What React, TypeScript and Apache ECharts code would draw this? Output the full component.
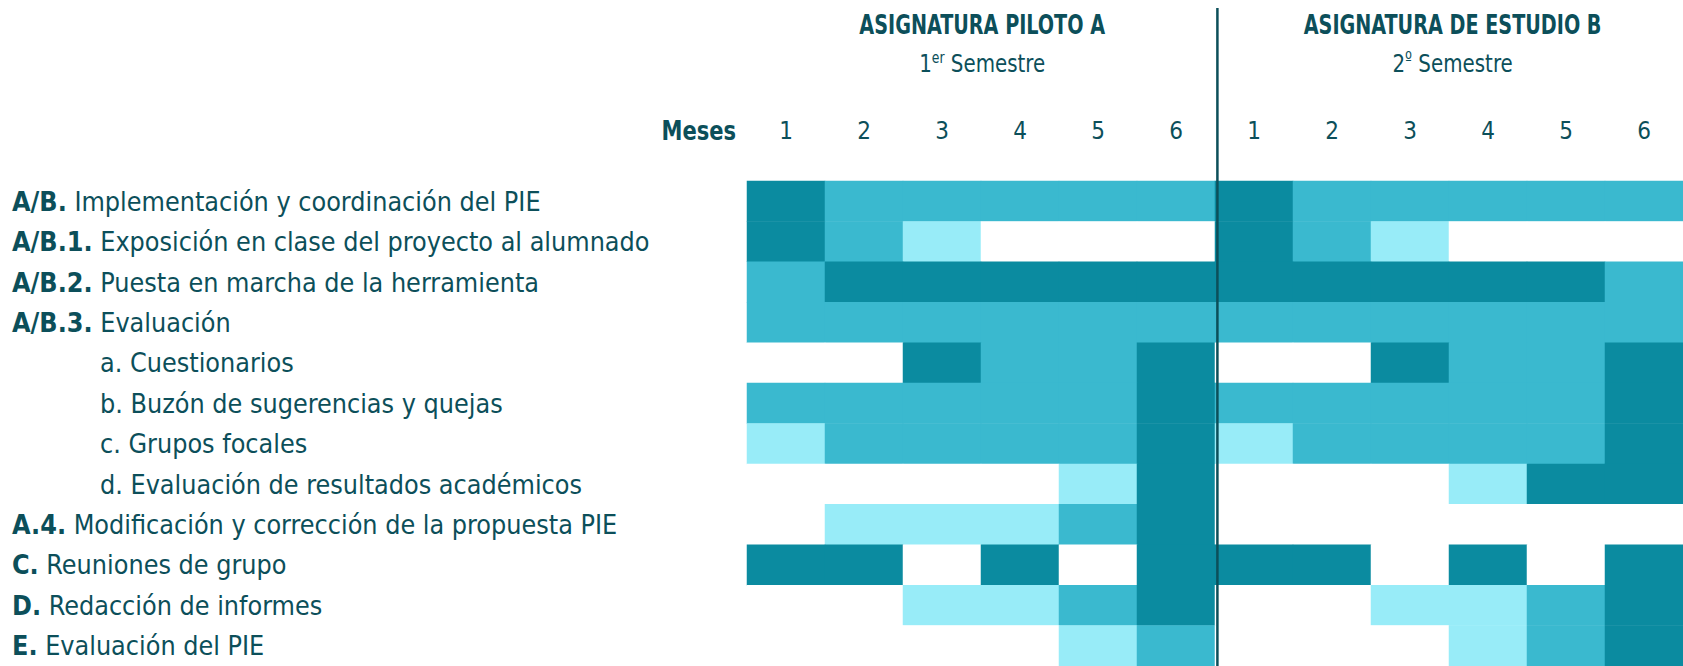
import React, { useEffect, useRef } from 'react';
import * as echarts from 'echarts';

// ---- data ----
const monthsA = ['1', '2', '3', '4', '5', '6'];
const monthsB = ['1', '2', '3', '4', '5', '6'];
const taskCodes = ['A/B.', 'A/B.1.', 'A/B.2.', 'A/B.3.', 'a.', 'b.', 'c.', 'd.', 'A.4.', 'C.', 'D.', 'E.'];
const taskNames = [
  'Implementación y coordinación del PIE',
  'Exposición en clase del proyecto al alumnado',
  'Puesta en marcha de la herramienta',
  'Evaluación',
  'Cuestionarios',
  'Buzón de sugerencias y quejas',
  'Grupos focales',
  'Evaluación de resultados académicos',
  'Modificación y corrección de la propuesta PIE',
  'Reuniones de grupo',
  'Redacción de informes',
  'Evaluación del PIE',
];
const isSubItem = [false, false, false, false, true, true, true, true, false, false, false, false];
// intensity: 0 none, 1 light, 2 medium, 3 strong
const semesterA = [
  [3, 2, 2, 2, 2, 2],
  [3, 2, 1, 0, 0, 0],
  [2, 3, 3, 3, 3, 3],
  [2, 2, 2, 2, 2, 2],
  [0, 0, 3, 2, 2, 3],
  [2, 2, 2, 2, 2, 3],
  [1, 2, 2, 2, 2, 3],
  [0, 0, 0, 0, 1, 3],
  [0, 1, 1, 1, 2, 3],
  [3, 3, 0, 3, 0, 3],
  [0, 0, 1, 1, 2, 3],
  [0, 0, 0, 0, 1, 2],
];
const semesterB = [
  [3, 2, 2, 2, 2, 2],
  [3, 2, 1, 0, 0, 0],
  [3, 3, 3, 3, 3, 2],
  [2, 2, 2, 2, 2, 2],
  [0, 0, 3, 2, 2, 3],
  [2, 2, 2, 2, 2, 3],
  [1, 2, 2, 2, 2, 3],
  [0, 0, 0, 1, 3, 3],
  [0, 0, 0, 0, 0, 0],
  [3, 3, 0, 3, 0, 3],
  [0, 0, 1, 1, 2, 3],
  [0, 0, 0, 1, 2, 3],
];
const headerA = 'ASIGNATURA PILOTO A';
const headerB = 'ASIGNATURA DE ESTUDIO B';
const monthsTitle = 'Meses';

// ---- style ----
const FONT = "'Liberation Sans Narrow', 'DejaVu Sans Condensed', 'Liberation Sans', sans-serif";
const TXT = '#0c4f5a';
const COLORS = ['#ffffff', '#98ecf8', '#3ab9cf', '#0b8ba0'];
const GRID_LEFT = 747;
const GRID_TOP = 181;
const CELL_W = 78.4;
const CELL_H = 40.7;
const LABEL_SIZE = 26.7;

export default function App() {
  const ref = useRef<HTMLDivElement>(null);

  useEffect(() => {
    if (!ref.current) return;
    const chart = echarts.init(ref.current, undefined, { renderer: 'svg' });

    const xCats = [...monthsA.map((m) => 'A-' + m), ...monthsB.map((m) => 'B-' + m)];
    const yCats = taskNames.map((_, i) => String(i));
    const data: number[][] = [];
    taskNames.forEach((_, r) => {
      semesterA[r].forEach((v, c) => data.push([c, r, v]));
      semesterB[r].forEach((v, c) => data.push([c + 6, r, v]));
    });

    const nCols = xCats.length;
    const nRows = yCats.length;
    const divX = GRID_LEFT + CELL_W * 6;
    const centerA = GRID_LEFT + CELL_W * 3;
    const centerB = GRID_LEFT + CELL_W * 9;

    chart.setOption({
      animation: false,
      backgroundColor: '#ffffff',
      grid: {
        left: GRID_LEFT,
        top: GRID_TOP,
        width: CELL_W * nCols,
        height: CELL_H * nRows,
      },
      xAxis: {
        type: 'category',
        position: 'top',
        data: xCats,
        axisLine: { show: false },
        axisTick: { show: false },
        splitLine: { show: false },
        axisLabel: {
          interval: 0,
          margin: 50,
          verticalAlign: 'middle',
          fontFamily: FONT,
          fontSize: 24,
          color: TXT,
          formatter: (v: string) => v.split('-')[1],
        },
      },
      yAxis: {
        type: 'category',
        inverse: true,
        data: yCats,
        axisLine: { show: false },
        axisTick: { show: false },
        splitLine: { show: false },
        axisLabel: {
          interval: 0,
          align: 'left',
          margin: GRID_LEFT - 12,
          fontFamily: FONT,
          fontSize: LABEL_SIZE,
          color: TXT,
          formatter: (v: string) => {
            const i = Number(v);
            if (isSubItem[i]) return '{s|' + taskCodes[i] + ' ' + taskNames[i] + '}';
            return '{b|' + taskCodes[i] + '}{r| ' + taskNames[i] + '}';
          },
          rich: {
            b: { fontFamily: FONT, fontSize: LABEL_SIZE, fontWeight: 'bold', color: TXT },
            r: { fontFamily: FONT, fontSize: LABEL_SIZE, color: TXT },
            s: { fontFamily: FONT, fontSize: LABEL_SIZE, color: TXT, padding: [0, 0, 0, 88] },
          },
        },
      },
      visualMap: {
        show: false,
        type: 'piecewise',
        dimension: 2,
        pieces: COLORS.map((c, i) => ({ value: i, color: c })),
      },
      series: [
        {
          type: 'heatmap',
          data,
          itemStyle: { borderWidth: 0 },
          emphasis: { disabled: true },
        },
      ],
      graphic: [
        {
          type: 'line',
          shape: { x1: divX, y1: 8, x2: divX, y2: 666 },
          style: { stroke: TXT, lineWidth: 2.5 },
          z: 100,
        },
        {
          type: 'text',
          x: centerA,
          y: 25,
          scaleX: 0.79,
          style: {
            text: headerA,
            fontFamily: FONT,
            fontWeight: 'bold',
            fontSize: 27,
            fill: TXT,
            align: 'center',
            verticalAlign: 'middle',
          },
        },
        {
          type: 'text',
          x: centerA,
          y: 63,
          scaleX: 0.92,
          style: {
            text: '{n|1}{sup|er}{n| Semestre}',
            fontFamily: FONT,
            fontSize: 24,
            fill: TXT,
            align: 'center',
            verticalAlign: 'middle',
            rich: {
              n: { fontFamily: FONT, fontSize: 24, fill: TXT, verticalAlign: 'bottom', lineHeight: 26 },
              sup: { fontFamily: FONT, fontSize: 15, fill: TXT, verticalAlign: 'top', lineHeight: 26 },
            },
          },
        },
        {
          type: 'text',
          x: centerB,
          y: 25,
          scaleX: 0.79,
          style: {
            text: headerB,
            fontFamily: FONT,
            fontWeight: 'bold',
            fontSize: 27,
            fill: TXT,
            align: 'center',
            verticalAlign: 'middle',
          },
        },
        {
          type: 'text',
          x: centerB,
          y: 63,
          scaleX: 0.92,
          style: {
            text: '{n|2}{sup|º}{n| Semestre}',
            fontFamily: FONT,
            fontSize: 24,
            fill: TXT,
            align: 'center',
            verticalAlign: 'middle',
            rich: {
              n: { fontFamily: FONT, fontSize: 24, fill: TXT, verticalAlign: 'bottom', lineHeight: 26 },
              sup: { fontFamily: FONT, fontSize: 18, fill: TXT, verticalAlign: 'top', lineHeight: 26 },
            },
          },
        },
        {
          type: 'text',
          x: GRID_LEFT - 11,
          y: 131,
          scaleX: 0.9,
          style: {
            text: monthsTitle,
            fontFamily: FONT,
            fontWeight: 'bold',
            fontSize: 26,
            fill: TXT,
            align: 'right',
            verticalAlign: 'middle',
          },
        },
      ],
    });

    return () => chart.dispose();
  }, []);

  return (
    <div
      ref={ref}
      style={{ position: 'absolute', left: 0, top: 0, width: 1683, height: 666, overflow: 'hidden' }}
    />
  );
}
